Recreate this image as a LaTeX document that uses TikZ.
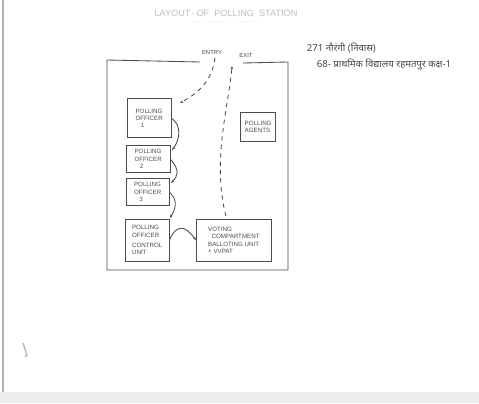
\documentclass[tikz,border=0pt]{standalone}
\usepackage{fontspec}
\setsansfont{Liberation Sans}
\newfontfamily\hindifont[Script=Devanagari]{Noto Sans}
\usetikzlibrary{arrows.meta}
\begin{document}
\begin{tikzpicture}[x=0.025cm,y=-0.025cm,
    pencil/.style={draw=gray!60!black,line width=0.6pt},
    room/.style={pencil},
    desk/.style={pencil,rectangle,anchor=north west,inner sep=1.5pt,align=left,
        font=\sffamily\fontsize{4.4}{5.2}\selectfont,text=gray!60!black},
    label/.style={font=\sffamily\fontsize{4.2}{5}\selectfont,text=gray!60!black},
    path/.style={pencil,dashed,-{Stealth[length=2.5pt]}},
    move/.style={pencil,-{Stealth[length=2.5pt]}}]
    \useasboundingbox[fill=white] (0,0) rectangle (479,403);
    % sheet edges
    \draw[gray!60,line width=1pt] (3,0)--(3,403);
    \fill[gray!15] (0,392) rectangle (479,403);
    % heading
    \node[label,text=gray!50,font=\sffamily\fontsize{6.5}{7}\selectfont] (title) at (226,13) {LAYOUT\,-\,OF\ \ POLLING\ \ STATION};
    \node[label,text=gray!35,font=\sffamily\fontsize{3}{3.5}\selectfont] (subtitle) at (226,23) {-- --~~~ --\,-- -- ---- -- ~~ ---- - ~ --- -- ~ -- ---};
    \node[label,anchor=west,text=gray!55!black,font=\hindifont\fontsize{6.8}{8}\selectfont] (booth) at (302,48) {271 नौरंगी (निवास)};
    \node[label,anchor=west,text=gray!55!black,font=\hindifont\fontsize{6.8}{8}\selectfont] (school) at (312,64) {68- प्राथमिक विद्यालय रहमतपुर कक्ष-1};
    % room
    \draw[room] (200,62)--(107,60)--(107,270)--(288,270)--(288,62)--(243,63);
    \node[label] (entry) at (212,52) {ENTRY};
    \node[label] (exit) at (246,55) {EXIT};
    % desks
    \node[desk,minimum width=43pt*0.72,minimum height=39pt*0.72] (po1) at (127,98) {POLLING\\OFFICER\\\ \ \ 1};
    \node[desk,minimum width=43pt*0.72,minimum height=27pt*0.72] (po2) at (126,145) {POLLING\\OFFICER\\\ \ \ 2};
    \node[desk,minimum width=42pt*0.72,minimum height=27pt*0.72] (po3) at (126,178) {POLLING\\OFFICER\\\ \ \ 3};
    \node[desk,minimum width=43pt*0.72,minimum height=41pt*0.72] (po4) at (125,219) {POLLING\\OFFICER\\[2pt]CONTROL\\UNIT};
    \node[desk,minimum width=74pt*0.72,minimum height=41pt*0.72] (vc) at (196,219) {VOTING\\\ \ COMPARTMENT\\BALLOTING UNIT\\+ VVPAT};
    \node[desk,minimum width=35pt*0.72,minimum height=29pt*0.72] (agents) at (240,112) {POLLING\\AGENTS};
    % voter movement
    \coordinate (door) at (215,58);
    \coordinate (out) at (232,66);
    \draw[path] (door) .. controls (212,80) and (200,92) .. (180,103);
    \draw[move] (po1.east) .. controls (182,125) and (180,140) .. (172,150);
    \draw[move] (po2.east) .. controls (180,170) and (178,176) .. (171,183);
    \draw[move] (po3.east) .. controls (178,200) and (176,208) .. (170,218);
    \draw[move] (po4.east) .. controls (176,225) and (184,224) .. (vc.west);
    \draw[path] (vc.north) ++(-8,-3) .. controls (212,160) and (228,110) .. (out);
    % stray pencil mark
    \draw[gray!60,line width=0.8pt] (23,343)--(27,355)--(25,357);
\end{tikzpicture}
\end{document}
